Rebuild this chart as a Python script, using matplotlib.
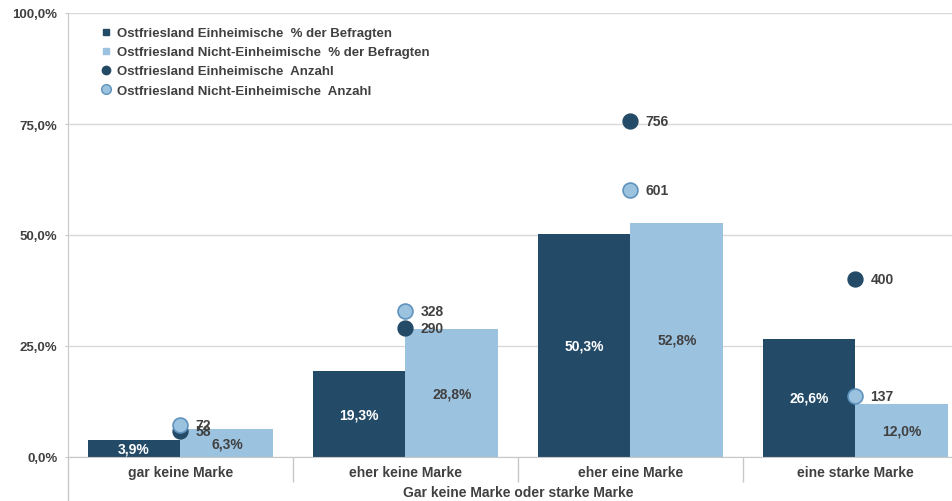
import matplotlib
matplotlib.use("Agg")
import matplotlib.pyplot as plt
from matplotlib.ticker import FuncFormatter, FixedLocator
from matplotlib.lines import Line2D
import numpy as np

plt.rcParams['font.family'] = ['Liberation Sans', 'DejaVu Sans']

categories = ["gar keine Marke", "eher keine Marke", "eher eine Marke", "eine starke Marke"]
pct_einheimisch = [3.9, 19.3, 50.3, 26.6]
pct_nicht_einheimisch = [6.3, 28.8, 52.8, 12.0]
anzahl_einheimisch = [58, 290, 756, 400]
anzahl_nicht_einheimisch = [72, 328, 601, 137]
y_ticks = [0, 25, 50, 75, 100]

series_names = [
    "Ostfriesland Einheimische  % der Befragten",
    "Ostfriesland Nicht-Einheimische  % der Befragten",
    "Ostfriesland Einheimische  Anzahl",
    "Ostfriesland Nicht-Einheimische  Anzahl",
]

dark = "#234a67"
light = "#9bc2df"
light_edge = "#5f93bd"
text_gray = "#404040"
grid_gray = "#d9d9d9"
axis_gray = "#c8c8c8"

W, H = 953, 502
fig = plt.figure(figsize=(W / 100, H / 100), dpi=100)
ax = fig.add_axes([68 / W, (H - 458) / H, 900 / W, 444 / H])

x = np.arange(len(categories))
bw = 0.413
off = bw / 2

b1 = ax.bar(x - off, pct_einheimisch, width=bw, color=dark, zorder=2)
b2 = ax.bar(x + off, pct_nicht_einheimisch, width=bw, color=light, zorder=2)

def fmt_pct(v):
    return f"{v:.1f}%".replace(".", ",")

for rect, v in zip(b1, pct_einheimisch):
    ax.text(rect.get_x() + rect.get_width() / 2, v / 2, fmt_pct(v),
            ha="center", va="center", color="white", fontsize=10, fontweight="bold", zorder=3)
for rect, v in zip(b2, pct_nicht_einheimisch):
    ax.text(rect.get_x() + rect.get_width() / 2, v / 2, fmt_pct(v),
            ha="center", va="center", color=text_gray, fontsize=10, fontweight="bold", zorder=3)

ax.set_xlim(-0.5, len(categories) - 0.5)
ax.set_ylim(0, 100)
ax.yaxis.set_major_locator(FixedLocator(y_ticks))
ax.yaxis.set_major_formatter(FuncFormatter(lambda v, p: fmt_pct(v)))
ax.grid(axis="y", color=grid_gray, linewidth=1, zorder=0)
ax.set_axisbelow(True)

for s in ["top", "right"]:
    ax.spines[s].set_visible(False)
ax.spines["left"].set_color(axis_gray)
ax.spines["bottom"].set_color(axis_gray)
ax.spines["left"].set_bounds(0, 100)

# left axis line continues down past the category labels
ax.plot([-0.5, -0.5], [0, -11], color=axis_gray, linewidth=1, clip_on=False, zorder=1)

ax.tick_params(axis="y", length=2.5, color=axis_gray, pad=5, labelsize=9.5, labelcolor=text_gray)
for lab in ax.get_yticklabels():
    lab.set_fontweight("bold")

ax.set_xticks(x)
ax.set_xticklabels(categories, fontsize=10, fontweight="bold", color=text_gray)
ax.tick_params(axis="x", which="major", length=0, pad=6)
ax.set_xticks(np.arange(0.5, len(categories) - 0.5, 1.0), minor=True)
ax.tick_params(axis="x", which="minor", length=18, color=axis_gray, width=1)
ax.set_xlabel("Gar keine Marke oder starke Marke", fontsize=10, fontweight="bold",
              color=text_gray, labelpad=-1)

# counts on a hidden secondary scale
ax2 = ax.twinx()
ax2.set_ylim(0, 1000)
ax2.axis("off")
ax2.scatter(x, anzahl_einheimisch, s=115, color=dark, zorder=5)
ax2.scatter(x, anzahl_nicht_einheimisch, s=115, color=light, edgecolor=light_edge,
            linewidth=1.2, zorder=6)
for xi, v in zip(x, anzahl_einheimisch):
    ax2.annotate(str(v), (xi, v), xytext=(15, 0), textcoords="offset pixels",
                 ha="left", va="center", fontsize=10, fontweight="bold",
                 color=text_gray, zorder=7)
for xi, v in zip(x, anzahl_nicht_einheimisch):
    ax2.annotate(str(v), (xi, v), xytext=(15, 0), textcoords="offset pixels",
                 ha="left", va="center", fontsize=10, fontweight="bold",
                 color=text_gray, zorder=7)

handles = [
    Line2D([], [], marker="s", linestyle="none", color=dark, markersize=5),
    Line2D([], [], marker="s", linestyle="none", color=light, markersize=5),
    Line2D([], [], marker="o", linestyle="none", color=dark, markersize=6),
    Line2D([], [], marker="o", linestyle="none", markerfacecolor=light,
           markeredgecolor=light_edge, markersize=7),
]
leg = ax.legend(handles, series_names, loc="upper left",
                bbox_to_anchor=(34 / 900, 1 - 14 / 444), frameon=False,
                handlelength=0.6, handletextpad=0.55, labelspacing=0.52,
                borderaxespad=0, borderpad=0,
                prop={"size": 9.5, "weight": "bold"})
for t in leg.get_texts():
    t.set_color(text_gray)

fig.savefig("out.png", dpi=100)
